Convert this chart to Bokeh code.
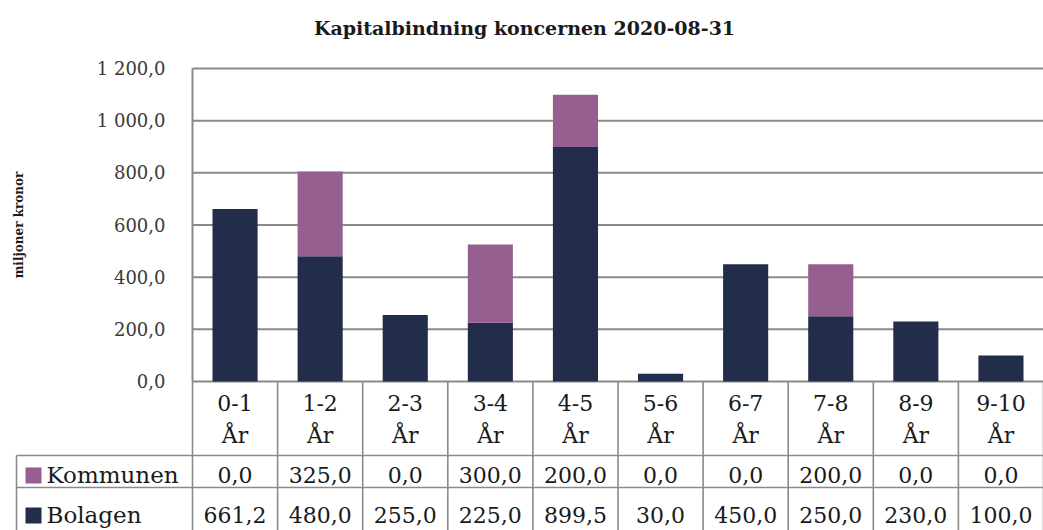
from bokeh.plotting import figure
from bokeh.models import Range1d, LinearAxis, FixedTicker, ColumnDataSource, Label
from bokeh.core.properties import value
from bokeh.embed import file_html
from bokeh.resources import INLINE

# ---------------- data ----------------
title_text = "Kapitalbindning koncernen 2020-08-31"
y_label = "miljoner kronor"
categories = ["0-1", "1-2", "2-3", "3-4", "4-5", "5-6", "6-7", "7-8", "8-9", "9-10"]
unit = "År"
series_names = ["Kommunen", "Bolagen"]
kommunen = [0.0, 325.0, 0.0, 300.0, 200.0, 0.0, 0.0, 200.0, 0.0, 0.0]
bolagen = [661.2, 480.0, 255.0, 225.0, 899.5, 30.0, 450.0, 250.0, 230.0, 100.0]
y_ticks = [0, 200, 400, 600, 800, 1000, 1200]

NAVY = "#222d4b"
PURPLE = "#955f8f"
GRID = "#8a8a8a"
TEXT = "#1a1a1a"
FONT = "DejaVu Serif"


def fmt(v):
    return f"{v:,.1f}".replace(",", " ").replace(".", ",")


# ---------------- geometry (page pixels) ----------------
W, H, OFF = 1043, 530, 0
PLOT_LEFT = 192      # x of value axis
ZERO_Y = 381         # y of value 0
TOP_Y = 68           # y of max tick
COL_W = 85.1         # width of one category column
UPP = (y_ticks[-1] - y_ticks[0]) / (ZERO_Y - TOP_Y)


def X(px):
    return (px - PLOT_LEFT) / COL_W


def Y(py):
    return (ZERO_Y - py) * UPP


n = len(categories)
p = figure(width=W, height=H,
           x_range=Range1d(X(OFF), X(OFF + W)),
           y_range=Range1d(Y(OFF + H), Y(OFF)),
           output_backend="svg", toolbar_location=None,
           x_axis_type=None, y_axis_type=None,
           min_border=0, outline_line_color=None)
p.min_border_left = p.min_border_right = p.min_border_top = p.min_border_bottom = 0

# gridlines
p.segment(x0=[0] * len(y_ticks), y0=y_ticks, x1=[n] * len(y_ticks), y1=y_ticks,
          line_color=GRID, line_width=2)

# value axis
yaxis = LinearAxis(fixed_location=0, bounds=(y_ticks[0], y_ticks[-1]),
                   ticker=FixedTicker(ticks=y_ticks),
                   major_label_overrides={t: fmt(t) for t in y_ticks},
                   axis_label=y_label)
yaxis.axis_line_color = GRID
yaxis.axis_line_width = 2
yaxis.major_tick_in = 0
yaxis.major_tick_out = 0
yaxis.minor_tick_line_color = None
yaxis.major_label_standoff = 27
yaxis.major_label_text_font = FONT
yaxis.major_label_text_font_size = "18px"
yaxis.major_label_text_color = "#3a3a3a"
yaxis.axis_label_text_font = FONT
yaxis.axis_label_text_font_style = "bold"
yaxis.axis_label_text_font_size = "12px"
yaxis.axis_label_text_color = TEXT
yaxis.axis_label_standoff = 68
p.add_layout(yaxis, "left")

# bars
src = ColumnDataSource(dict(x=[i + 0.5 for i in range(n)], Bolagen=bolagen, Kommunen=kommunen))
p.vbar_stack(["Bolagen", "Kommunen"], x="x", width=0.53, color=[NAVY, PURPLE],
             line_color=None, source=src)

# data table grid
y_bottom = Y(OFF + H)
legend_left = X(16)
row1_top, row2_top = Y(455), Y(487)
p.segment(x0=list(range(n + 1)), y0=[0] * (n + 1), x1=list(range(n + 1)), y1=[y_bottom] * (n + 1),
          line_color=GRID, line_width=1.6)
p.segment(x0=[legend_left], y0=[row1_top], x1=[legend_left], y1=[y_bottom],
          line_color=GRID, line_width=1.6)
p.segment(x0=[legend_left, legend_left], y0=[row1_top, row2_top], x1=[n, n], y1=[row1_top, row2_top],
          line_color=GRID, line_width=1.6)

SH = 9  # baseline correction (px)
xc = [i + 0.5 for i in range(n)]
txt = dict(text_font=value(FONT), text_font_size="22px", text_color=TEXT,
           text_align="center", text_baseline="alphabetic")
p.text(x=xc, y=[Y(411 - SH)] * n, text=categories, **txt)
p.text(x=xc, y=[Y(444 - SH)] * n, text=[unit] * n, **txt)
p.text(x=xc, y=[Y(483 - SH)] * n, text=[fmt(v) for v in kommunen], **txt)
p.text(x=xc, y=[Y(523 - SH)] * n, text=[fmt(v) for v in bolagen], **txt)

# legend keys inside table
p.scatter(x=[X(33)] * 2, y=[Y(475), Y(515)], marker="square", size=16,
          color=[PURPLE, NAVY], line_color=None)
p.text(x=[X(46)] * 2, y=[Y(483 - SH)] + [Y(523 - SH)], text=series_names,
       text_font=value(FONT), text_font_size="23px", text_color=TEXT,
       text_align="left", text_baseline="alphabetic")

# title
p.add_layout(Label(x=X(524), y=Y(34 - 7), text=title_text, text_align="center",
                   text_baseline="alphabetic", text_font=FONT, text_font_size="19px",
                   text_font_style="bold", text_color=TEXT))

open("out.html", "w").write(file_html(p, INLINE))
